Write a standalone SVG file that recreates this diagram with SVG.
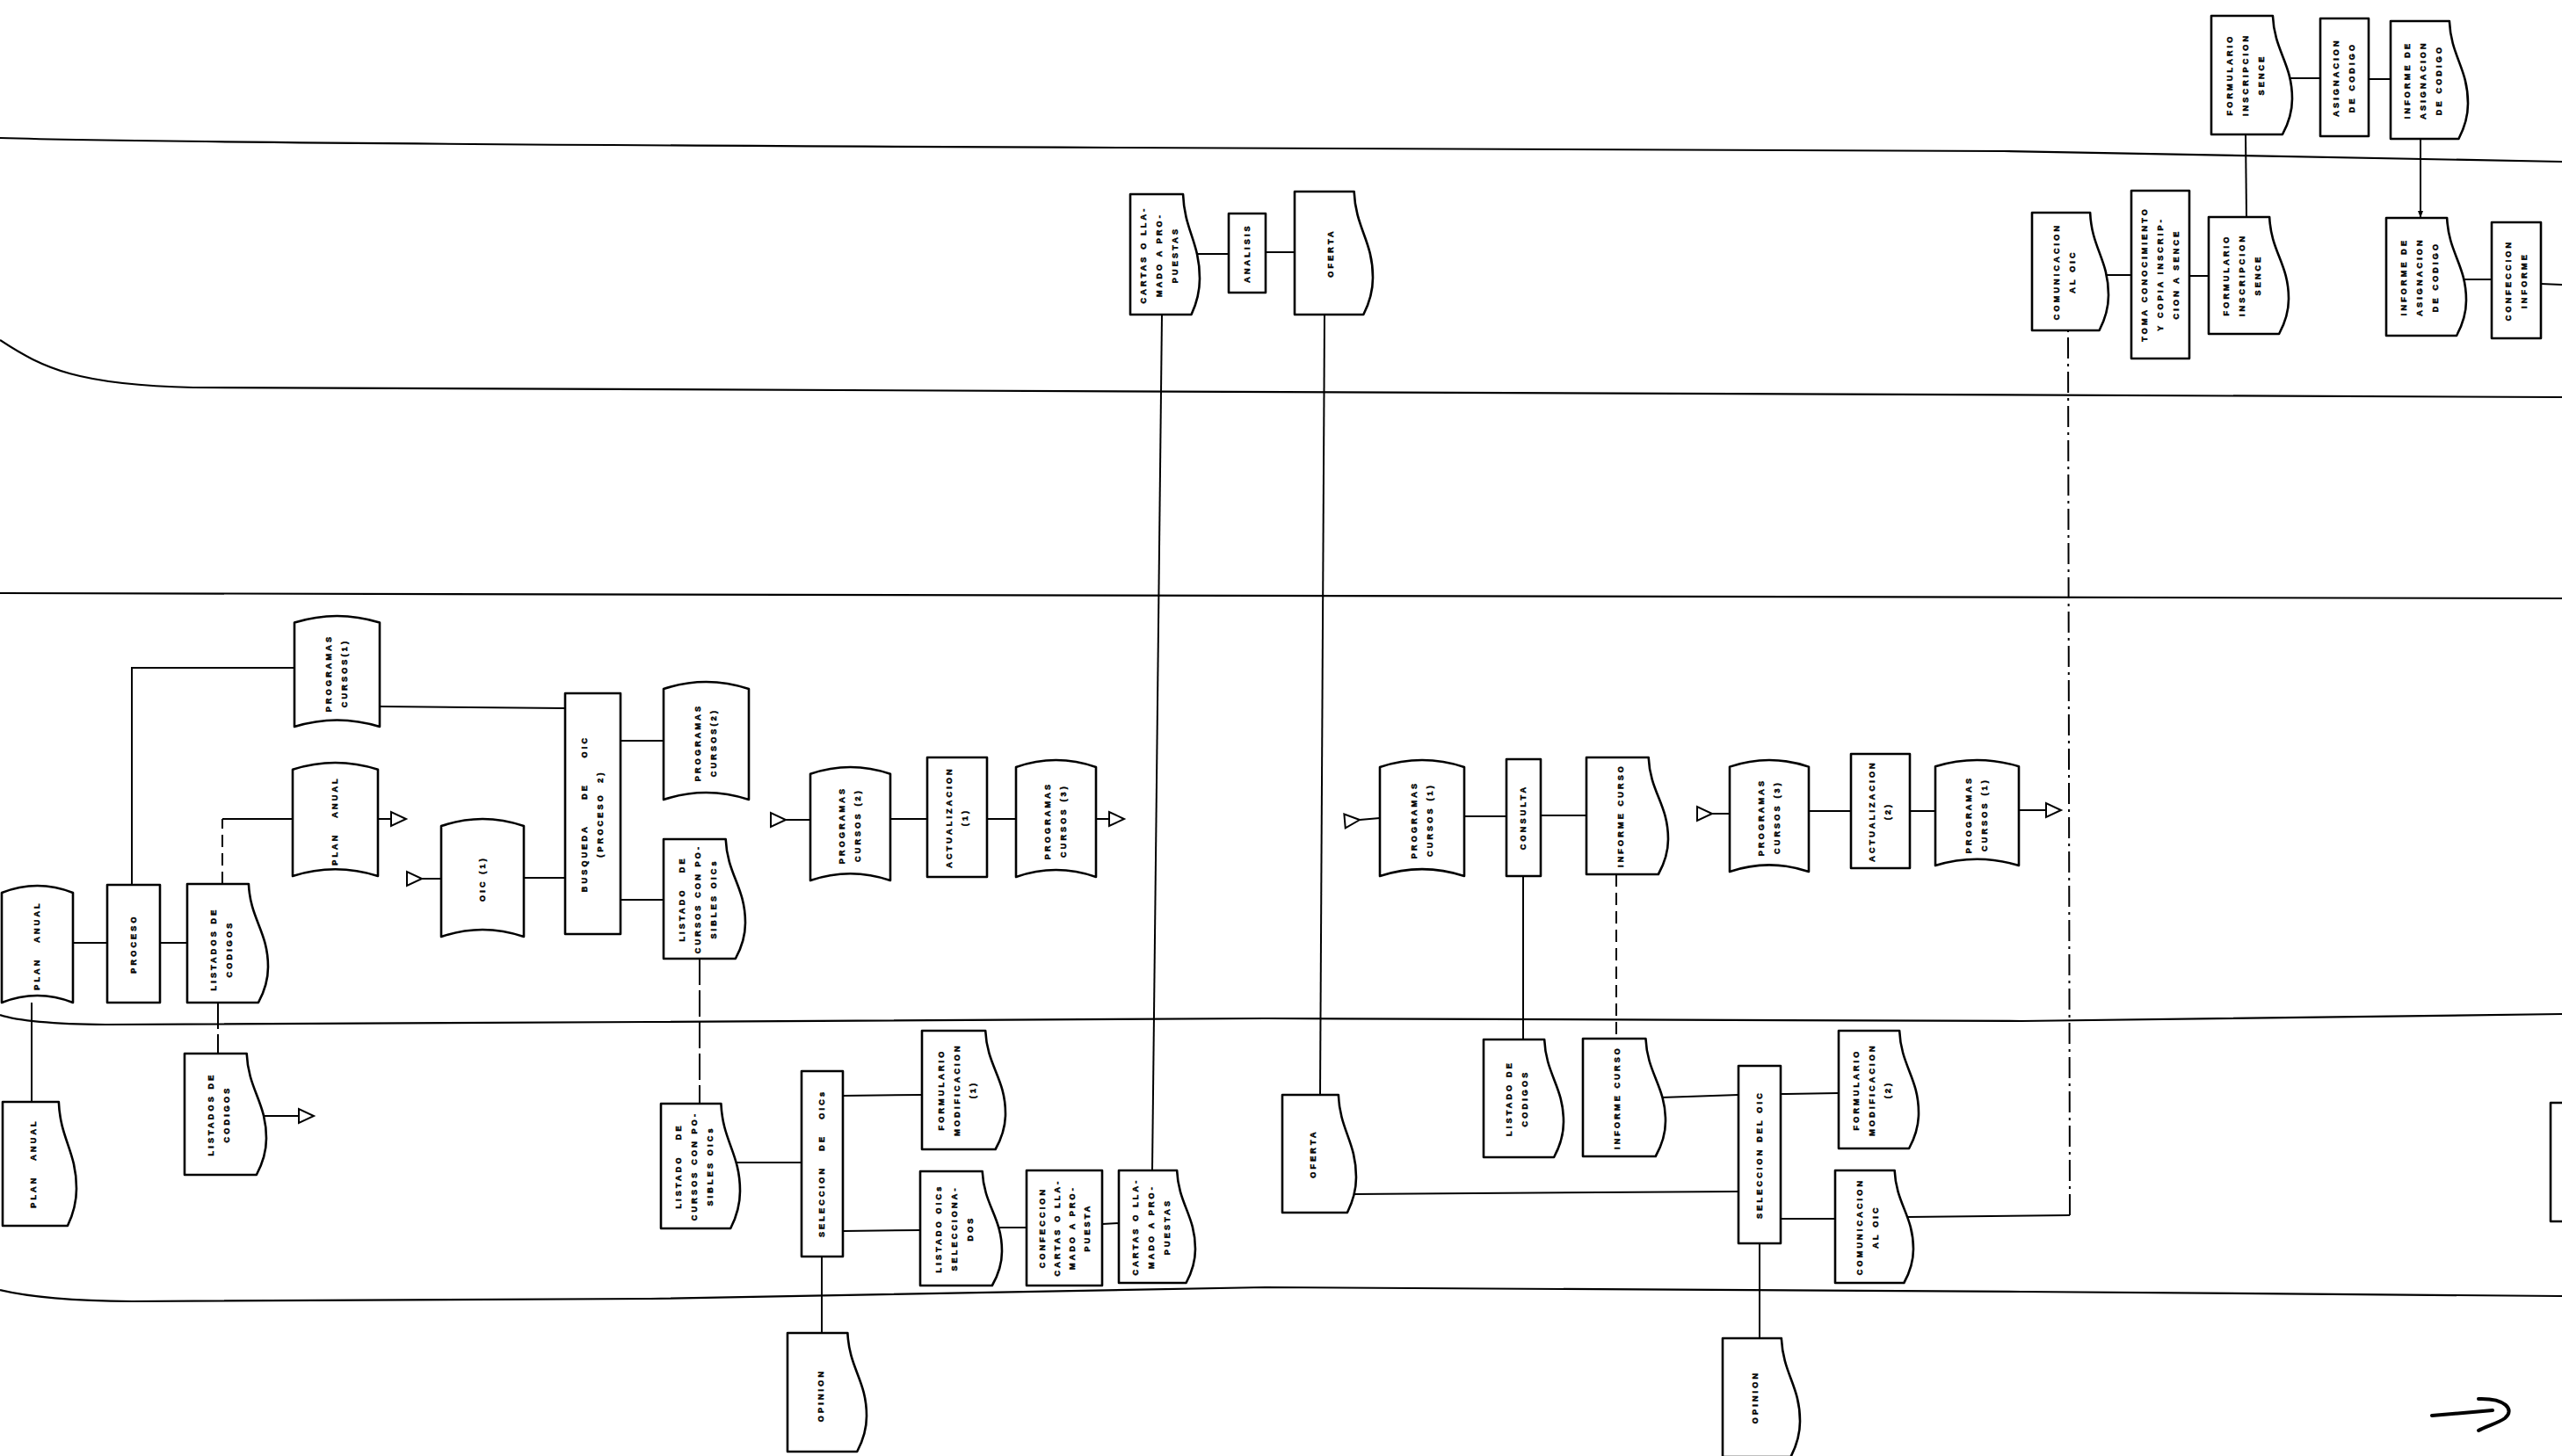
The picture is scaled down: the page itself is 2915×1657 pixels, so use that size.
<svg xmlns="http://www.w3.org/2000/svg" xmlns:xlink="http://www.w3.org/1999/xlink" width="2915" height="1657" viewBox="0 0 2915 1657">
<style>
.s{fill:#fff;stroke:#000;stroke-width:2.6;stroke-linejoin:round}
.ln{fill:none;stroke:#000;stroke-width:2.2}
.c line,.c polyline,.c path{fill:none;stroke:#000;stroke-width:2}
.d1{stroke-dasharray:30 6}
.d2{stroke-dasharray:14 7}
.dd{stroke-dasharray:24 6 3 6}
.t{font-family:"Liberation Sans",Arial,sans-serif;font-size:9px;font-weight:bold;letter-spacing:3.2px;text-anchor:middle;dominant-baseline:central;fill:#000;stroke:#000;stroke-width:0.5}
</style>
<defs>
<path id="doc" d="M0,0 L0.76,0 C0.78,0.3 1,0.4 1,0.7 C1,0.85 0.92,0.95 0.88,1 L0,1 Z" vector-effect="non-scaling-stroke"/>
<path id="tape" d="M0,0.06 Q0.5,-0.06 1,0.06 L1,1 Q0.5,0.88 0,1 Z" vector-effect="non-scaling-stroke"/>
<marker id="triE" markerUnits="userSpaceOnUse" markerWidth="22" markerHeight="22" refX="0" refY="0" viewBox="-2 -10 22 20" orient="auto"><path d="M0,-8 L0,8 L17,0 Z" fill="#fff" stroke="#000" stroke-width="2"/></marker>
<marker id="triS" markerUnits="userSpaceOnUse" markerWidth="22" markerHeight="22" refX="17" refY="0" viewBox="-2 -10 22 20" orient="auto"><path d="M0,-8 L0,8 L17,0 Z" fill="#fff" stroke="#000" stroke-width="2"/></marker>
<marker id="arr" markerUnits="userSpaceOnUse" markerWidth="10" markerHeight="10" refX="8" refY="0" viewBox="0 -5 10 10" orient="auto"><path d="M0,-3 L8,0 L0,3 Z" fill="#000"/></marker>
</defs>
<rect width="2915" height="1657" fill="#fff"/>

<g id="lanes" class="ln">
<path d="M0,157 C100,160 300,164 1273,168 L2280,172 L2915,184"/>
<path d="M0,387 C50,420 90,438 220,441 L2915,452"/>
<path d="M0,675 L2915,681"/>
<path d="M0,1155 Q30,1165 120,1166 L740,1163 L1440,1159 L2300,1162 L2915,1154"/>
<path d="M0,1468 Q50,1480 150,1481 L740,1478 L1440,1465 L2300,1470 L2915,1475"/>
</g>

<g id="connectors" class="c">
<line x1="83" y1="1073" x2="122" y2="1073"/>
<line x1="182" y1="1073" x2="213" y2="1073"/>
<polyline points="150,1007 150,760 335,760"/>
<line class="d2" x1="253" y1="1006" x2="253" y2="932"/>
<line x1="253" y1="932" x2="333" y2="932"/>
<line x1="425" y1="932" x2="445" y2="932" marker-end="url(#triE)"/>
<line x1="480" y1="1000" x2="502" y2="1000" marker-start="url(#triS)"/>
<line x1="596" y1="999" x2="643" y2="999"/>
<line x1="432" y1="804" x2="643" y2="806"/>
<line x1="706" y1="843" x2="755" y2="843"/>
<line x1="706" y1="1024" x2="755" y2="1024"/>
<line class="d1" x1="796" y1="1091" x2="796" y2="1256"/>
<line x1="894" y1="933" x2="922" y2="933" marker-start="url(#triS)"/>
<line x1="1013" y1="932" x2="1055" y2="932"/>
<line x1="1123" y1="932" x2="1156" y2="932"/>
<line x1="1247" y1="932" x2="1262" y2="932" marker-end="url(#triE)"/>
<line x1="36" y1="1141" x2="36" y2="1254"/>
<line class="d1" x1="248" y1="1141" x2="248" y2="1199"/>
<line x1="298" y1="1270" x2="340" y2="1270" marker-end="url(#triE)"/>
<line x1="836" y1="1323" x2="912" y2="1323"/>
<line x1="959" y1="1247" x2="1049" y2="1246"/>
<line x1="959" y1="1401" x2="1047" y2="1400"/>
<line x1="1134" y1="1397" x2="1168" y2="1397"/>
<line x1="1254" y1="1393" x2="1273" y2="1392"/>
<line x1="1311" y1="1332" x2="1322" y2="358"/>
<line x1="935" y1="1430" x2="935" y2="1517"/>
<line x1="1360" y1="289" x2="1398" y2="289"/>
<line x1="1440" y1="287" x2="1473" y2="287"/>
<line x1="1507" y1="358" x2="1502" y2="1246"/>
<line x1="1538" y1="1359" x2="1978" y2="1356"/>
<line x1="1547" y1="933" x2="1570" y2="931" marker-start="url(#triS)"/>
<line x1="1666" y1="929" x2="1714" y2="929"/>
<line x1="1753" y1="928" x2="1805" y2="928"/>
<line x1="1733" y1="997" x2="1733" y2="1183"/>
<line class="d2" x1="1839" y1="995" x2="1839" y2="1182"/>
<line x1="1890" y1="1249" x2="1978" y2="1246"/>
<line x1="2026" y1="1245" x2="2092" y2="1244"/>
<line x1="2026" y1="1387" x2="2088" y2="1387"/>
<line x1="2170" y1="1385" x2="2355" y2="1383"/>
<line class="dd" x1="2355" y1="1383" x2="2353" y2="376"/>
<line x1="2002" y1="1415" x2="2002" y2="1523"/>
<line x1="1948" y1="926" x2="1968" y2="926" marker-start="url(#triS)"/>
<line x1="2058" y1="923" x2="2106" y2="923"/>
<line x1="2173" y1="923" x2="2202" y2="923"/>
<line x1="2297" y1="922" x2="2328" y2="922" marker-end="url(#triE)"/>
<line x1="2396" y1="313" x2="2425" y2="313"/>
<line x1="2491" y1="314" x2="2513" y2="314"/>
<line x1="2555" y1="153" x2="2556" y2="247"/>
<line x1="2754" y1="158" x2="2754" y2="248" marker-end="url(#arr)"/>
<line x1="2604" y1="89" x2="2640" y2="89"/>
<line x1="2695" y1="90" x2="2720" y2="90"/>
<line x1="2800" y1="318" x2="2835" y2="318"/>
<line x1="2891" y1="323" x2="2915" y2="324"/>
</g>

<g id="n1"><use href="#doc" class="s" transform="translate(2516,18) scale(92,135)"/><text class="t" transform="translate(2555,85) rotate(-90)"><tspan x="0" y="-18">FORMULARIO</tspan><tspan x="0" y="0">INSCRIPCION</tspan><tspan x="0" y="18">SENCE</tspan></text></g>
<g id="n2"><rect class="s" x="2640" y="21" width="55" height="134"/><text class="t" transform="translate(2667,88) rotate(-90)"><tspan x="0" y="-9">ASIGNACION</tspan><tspan x="0" y="9">DE CODIGO</tspan></text></g>
<g id="n3"><use href="#doc" class="s" transform="translate(2720,24) scale(88,134)"/><text class="t" transform="translate(2757,91) rotate(-90)"><tspan x="0" y="-18">INFORME DE</tspan><tspan x="0" y="0">ASIGNACION</tspan><tspan x="0" y="18">DE CODIGO</tspan></text></g>
<g id="n4"><use href="#doc" class="s" transform="translate(1286,221) scale(79,137)"/><text class="t" transform="translate(1319,290) rotate(-90)"><tspan x="0" y="-18">CARTAS O LLA-</tspan><tspan x="0" y="0">MADO A PRO-</tspan><tspan x="0" y="18">PUESTAS</tspan></text></g>
<g id="n5"><rect class="s" x="1398" y="243" width="42" height="90"/><text class="t" transform="translate(1419,288) rotate(-90)">ANALISIS</text></g>
<g id="n6"><use href="#doc" class="s" transform="translate(1473,218) scale(89,140)"/><text class="t" transform="translate(1514,288) rotate(-90)">OFERTA</text></g>
<g id="n7"><use href="#doc" class="s" transform="translate(2312,242) scale(87,134)"/><text class="t" transform="translate(2349,309) rotate(-90)"><tspan x="0" y="-9">COMUNICACION</tspan><tspan x="0" y="9">AL OIC</tspan></text></g>
<g id="n8"><rect class="s" x="2425" y="217" width="66" height="191"/><text class="t" transform="translate(2458,312) rotate(-90)"><tspan x="0" y="-18">TOMA CONOCIMIENTO</tspan><tspan x="0" y="0">Y COPIA INSCRIP-</tspan><tspan x="0" y="18">CION A SENCE</tspan></text></g>
<g id="n9"><use href="#doc" class="s" transform="translate(2513,247) scale(91,133)"/><text class="t" transform="translate(2551,313) rotate(-90)"><tspan x="0" y="-18">FORMULARIO</tspan><tspan x="0" y="0">INSCRIPCION</tspan><tspan x="0" y="18">SENCE</tspan></text></g>
<g id="n10"><use href="#doc" class="s" transform="translate(2715,248) scale(91,134)"/><text class="t" transform="translate(2753,315) rotate(-90)"><tspan x="0" y="-18">INFORME DE</tspan><tspan x="0" y="0">ASIGNACION</tspan><tspan x="0" y="18">DE CODIGO</tspan></text></g>
<g id="n11"><rect class="s" x="2835" y="253" width="56" height="132"/><text class="t" transform="translate(2863,319) rotate(-90)"><tspan x="0" y="-9">CONFECCION</tspan><tspan x="0" y="9">INFORME</tspan></text></g>

<g id="n12"><use href="#tape" class="s" transform="translate(2,1008) scale(81,133)"/><text class="t" xml:space="preserve" transform="translate(42,1076) rotate(-90)">PLAN   ANUAL</text></g>
<g id="n13"><rect class="s" x="122" y="1007" width="60" height="134"/><text class="t" transform="translate(152,1074) rotate(-90)">PROCESO</text></g>
<g id="n14"><use href="#doc" class="s" transform="translate(213,1006) scale(92,135)"/><text class="t" transform="translate(252,1080) rotate(-90)"><tspan x="0" y="-9">LISTADOS DE</tspan><tspan x="0" y="9">CODIGOS</tspan></text></g>
<g id="n15"><use href="#tape" class="s" transform="translate(335,701) scale(97,126)"/><text class="t" transform="translate(383,766) rotate(-90)"><tspan x="0" y="-9">PROGRAMAS</tspan><tspan x="0" y="9">CURSOS(1)</tspan></text></g>
<g id="n16"><use href="#tape" class="s" transform="translate(333,868) scale(97,129)"/><text class="t" xml:space="preserve" transform="translate(381,934) rotate(-90)">PLAN   ANUAL</text></g>
<g id="n17"><use href="#tape" class="s" transform="translate(502,932) scale(94,134)"/><text class="t" transform="translate(549,1000) rotate(-90)">OIC (1)</text></g>
<g id="n18"><rect class="s" x="643" y="789" width="63" height="274"/><text class="t" xml:space="preserve" transform="translate(674,926) rotate(-90)"><tspan x="0" y="-9">BUSQUEDA     DE     OIC</tspan><tspan x="0" y="9">(PROCESO  2)</tspan></text></g>
<g id="n19"><use href="#tape" class="s" transform="translate(755,776) scale(97,134)"/><text class="t" transform="translate(803,845) rotate(-90)"><tspan x="0" y="-9">PROGRAMAS</tspan><tspan x="0" y="9">CURSOS(2)</tspan></text></g>
<g id="n20"><use href="#doc" class="s" transform="translate(755,955) scale(93,136)"/><text class="t" xml:space="preserve" transform="translate(794,1023) rotate(-90)"><tspan x="0" y="-18">LISTADO   DE</tspan><tspan x="0" y="0">CURSOS CON PO-</tspan><tspan x="0" y="18">SIBLES OICs</tspan></text></g>
<g id="n21"><use href="#tape" class="s" transform="translate(922,873) scale(91,129)"/><text class="t" transform="translate(967,939) rotate(-90)"><tspan x="0" y="-9">PROGRAMAS</tspan><tspan x="0" y="9">CURSOS (2)</tspan></text></g>
<g id="n22"><rect class="s" x="1055" y="862" width="68" height="136"/><text class="t" transform="translate(1089,930) rotate(-90)"><tspan x="0" y="-9">ACTUALIZACION</tspan><tspan x="0" y="9">(1)</tspan></text></g>
<g id="n23"><use href="#tape" class="s" transform="translate(1156,865) scale(91,133)"/><text class="t" transform="translate(1201,934) rotate(-90)"><tspan x="0" y="-9">PROGRAMAS</tspan><tspan x="0" y="9">CURSOS (3)</tspan></text></g>
<g id="n24"><use href="#tape" class="s" transform="translate(1570,865) scale(96,132)"/><text class="t" transform="translate(1618,933) rotate(-90)"><tspan x="0" y="-9">PROGRAMAS</tspan><tspan x="0" y="9">CURSOS (1)</tspan></text></g>
<g id="n25"><rect class="s" x="1714" y="864" width="39" height="133"/><text class="t" transform="translate(1733,930) rotate(-90)">CONSULTA</text></g>
<g id="n26"><use href="#doc" class="s" transform="translate(1805,862) scale(93,133)"/><text class="t" transform="translate(1844,928) rotate(-90)">INFORME CURSO</text></g>
<g id="n27"><use href="#tape" class="s" transform="translate(1968,865) scale(90,127)"/><text class="t" transform="translate(2013,930) rotate(-90)"><tspan x="0" y="-9">PROGRAMAS</tspan><tspan x="0" y="9">CURSOS (3)</tspan></text></g>
<g id="n28"><rect class="s" x="2106" y="858" width="67" height="130"/><text class="t" transform="translate(2139,923) rotate(-90)"><tspan x="0" y="-9">ACTUALIZACION</tspan><tspan x="0" y="9">(2)</tspan></text></g>
<g id="n29"><use href="#tape" class="s" transform="translate(2202,865) scale(95,120)"/><text class="t" transform="translate(2249,927) rotate(-90)"><tspan x="0" y="-9">PROGRAMAS</tspan><tspan x="0" y="9">CURSOS (1)</tspan></text></g>

<g id="n30"><use href="#doc" class="s" transform="translate(3,1254) scale(84,141)"/><text class="t" xml:space="preserve" transform="translate(38,1324) rotate(-90)">PLAN   ANUAL</text></g>
<g id="n31"><use href="#doc" class="s" transform="translate(210,1199) scale(93,138)"/><text class="t" transform="translate(249,1268) rotate(-90)"><tspan x="0" y="-9">LISTADOS DE</tspan><tspan x="0" y="9">CODIGOS</tspan></text></g>
<g id="n32"><use href="#doc" class="s" transform="translate(752,1256) scale(90,142)"/><text class="t" xml:space="preserve" transform="translate(790,1327) rotate(-90)"><tspan x="0" y="-18">LISTADO   DE</tspan><tspan x="0" y="0">CURSOS CON PO-</tspan><tspan x="0" y="18">SIBLES OICs</tspan></text></g>
<g id="n33"><rect class="s" x="912" y="1219" width="47" height="211"/><text class="t" xml:space="preserve" transform="translate(935,1324) rotate(-90)">SELECCION   DE   OICs</text></g>
<g id="n34"><use href="#doc" class="s" transform="translate(1049,1173) scale(95,135)"/><text class="t" transform="translate(1089,1240) rotate(-90)"><tspan x="0" y="-18">FORMULARIO</tspan><tspan x="0" y="0">MODIFICACION</tspan><tspan x="0" y="18">(1)</tspan></text></g>
<g id="n35"><use href="#doc" class="s" transform="translate(1047,1333) scale(93,130)"/><text class="t" transform="translate(1086,1398) rotate(-90)"><tspan x="0" y="-18">LISTADO OICs</tspan><tspan x="0" y="0">SELECCIONA-</tspan><tspan x="0" y="18">DOS</tspan></text></g>
<g id="n36"><rect class="s" x="1168" y="1332" width="86" height="131"/><text class="t" transform="translate(1211,1397) rotate(-90)"><tspan x="0" y="-25.5">CONFECCION</tspan><tspan x="0" y="-8.5">CARTAS O LLA-</tspan><tspan x="0" y="8.5">MADO A PRO-</tspan><tspan x="0" y="25.5">PUESTA</tspan></text></g>
<g id="n37"><use href="#doc" class="s" transform="translate(1273,1332) scale(87,128)"/><text class="t" transform="translate(1310,1396) rotate(-90)"><tspan x="0" y="-18">CARTAS O LLA-</tspan><tspan x="0" y="0">MADO A PRO-</tspan><tspan x="0" y="18">PUESTAS</tspan></text></g>
<g id="n38"><use href="#doc" class="s" transform="translate(1459,1246) scale(84,134)"/><text class="t" transform="translate(1494,1313) rotate(-90)">OFERTA</text></g>
<g id="n39"><use href="#doc" class="s" transform="translate(1688,1183) scale(91,134)"/><text class="t" transform="translate(1726,1250) rotate(-90)"><tspan x="0" y="-9">LISTADO DE</tspan><tspan x="0" y="9">CODIGOS</tspan></text></g>
<g id="n40"><use href="#doc" class="s" transform="translate(1801,1182) scale(94,134)"/><text class="t" transform="translate(1840,1249) rotate(-90)">INFORME CURSO</text></g>
<g id="n41"><rect class="s" x="1978" y="1213" width="48" height="202"/><text class="t" transform="translate(2002,1314) rotate(-90)">SELECCION DEL OIC</text></g>
<g id="n42"><use href="#doc" class="s" transform="translate(2092,1173) scale(91,134)"/><text class="t" transform="translate(2130,1240) rotate(-90)"><tspan x="0" y="-18">FORMULARIO</tspan><tspan x="0" y="0">MODIFICACION</tspan><tspan x="0" y="18">(2)</tspan></text></g>
<g id="n43"><use href="#doc" class="s" transform="translate(2088,1332) scale(89,128)"/><text class="t" transform="translate(2125,1396) rotate(-90)"><tspan x="0" y="-9">COMUNICACION</tspan><tspan x="0" y="9">AL OIC</tspan></text></g>
<g id="n44"><rect class="s" x="2902" y="1255" width="30" height="135"/></g>

<g id="n45"><use href="#doc" class="s" transform="translate(896,1517) scale(90,135)"/><text class="t" transform="translate(934,1588) rotate(-90)">OPINION</text></g>
<g id="n46"><use href="#doc" class="s" transform="translate(1960,1523) scale(88,135)"/><text class="t" transform="translate(1997,1590) rotate(-90)">OPINION</text></g>

<g id="continue-arrow" fill="none" stroke="#000" stroke-width="4" stroke-linecap="round">
<path d="M2767,1611 L2836,1605"/>
<path d="M2820,1592 C2850,1591 2862,1604 2850,1614 C2842,1620 2828,1623 2820,1628"/>
</g>
</svg>
